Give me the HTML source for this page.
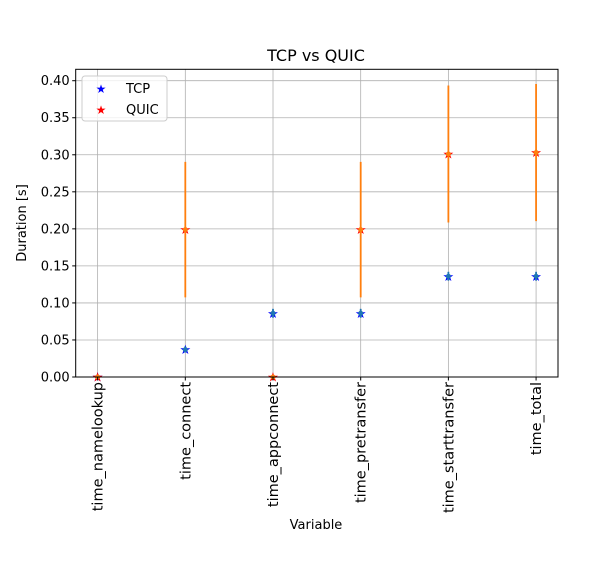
<!DOCTYPE html>
<html><head><meta charset="utf-8"><style>
body{margin:0;background:#fff}
svg{display:block;font-family:"DejaVu Sans","Liberation Sans",sans-serif}
</style></head><body>
<svg id="chart" width="614" height="582" xmlns="http://www.w3.org/2000/svg">
<rect width="614" height="582" fill="#fff"/>
<g id="grid"></g>
<g id="marks"></g>
<rect x="75.7" y="69.3" width="482.3" height="307.7" fill="none" stroke="#000" stroke-width="1"/>
<g id="axes"></g>
<text x="316" y="61" text-anchor="middle" font-size="16">TCP vs QUIC</text>
<text x="316" y="529" text-anchor="middle" font-size="13">Variable</text>
<text transform="translate(26,223) rotate(-90)" text-anchor="middle" font-size="13">Duration [s]</text>
<g>
<rect x="82" y="76" width="85" height="45" rx="3" fill="#fff" fill-opacity="0.8" stroke="#ccc"/>
<text x="101" y="93" fill="blue" font-size="12" text-anchor="middle">★</text>
<text x="126" y="93" font-size="13">TCP</text>
<text x="101" y="114" fill="red" font-size="12" text-anchor="middle">★</text>
<text x="126" y="114" font-size="13">QUIC</text>
</g>
</svg>
<script>
const categories=["time_namelookup","time_connect","time_appconnect","time_pretransfer","time_starttransfer","time_total"];
const tcpValues=[0,0.037,0.086,0.086,0.136,0.136];
const tcpErr=[0.001,0.004,0.006,0.006,0.006,0.006];
const quicValues=[0,0.199,0,0.199,0.301,0.303];
const quicErr=[0,0.0915,0,0.0915,0.0925,0.0925];
const yTicks=[0,0.05,0.10,0.15,0.20,0.25,0.30,0.35,0.40];
const NS="http://www.w3.org/2000/svg";
const L=75.7,R=558,T=69.3,B=377,ymax=0.4154;
const xs=i=>L+(i+0.25)*(R-L)/5.5;
const ys=v=>B-v/ymax*(B-T);
function mk(tag,attrs,parent,txt){const e=document.createElementNS(NS,tag);for(const k in attrs)e.setAttribute(k,attrs[k]);if(txt!==undefined)e.textContent=txt;parent.appendChild(e);return e;}
const grid=document.getElementById('grid'),axes=document.getElementById('axes'),marks=document.getElementById('marks');
yTicks.forEach(t=>{const y=ys(t);
 const g=mk('line',{x1:L,x2:R,y1:y,y2:y,stroke:'#b0b0b0','stroke-width':0.8},grid);
 
 
 mk('line',{x1:L-3.5,x2:L,y1:y,y2:y,stroke:'#000'},axes);
 const lb=mk('text',{x:L-6,y:y+4.5,'text-anchor':'end','font-size':13},axes,t.toFixed(2));
 
 
});
categories.forEach((c,i)=>{const x=xs(i);
 const g=mk('line',{x1:x,x2:x,y1:T,y2:B,stroke:'#b0b0b0','stroke-width':0.8},grid);
 
 
 mk('line',{x1:x,x2:x,y1:B,y2:B+3.5,stroke:'#000'},axes);
 const lb=mk('text',{transform:`translate(${x+5},${B+5}) rotate(-90)`,'text-anchor':'end','font-size':14.5},axes,c);
 
 
});
function series(vals,errs,mcol,ecol,name){
 vals.forEach((v,i)=>{const x=xs(i);
  const s=mk('text',{x:x,y:ys(v)+4.5,fill:mcol,'font-size':13,'text-anchor':'middle'},marks,'★');
  
  
  const e=mk('line',{x1:x,x2:x,y1:ys(v-errs[i]),y2:ys(v+errs[i]),stroke:ecol,'stroke-width':1.8},marks);
  
  
  const d=mk('circle',{cx:x,cy:ys(v),r:2.5,fill:ecol},marks);
  
  
 });
}
series(tcpValues,tcpErr,'blue','#1f77b4','tcp');
series(quicValues,quicErr,'red','#ff7f0e','quic');
</script>
</body></html>
